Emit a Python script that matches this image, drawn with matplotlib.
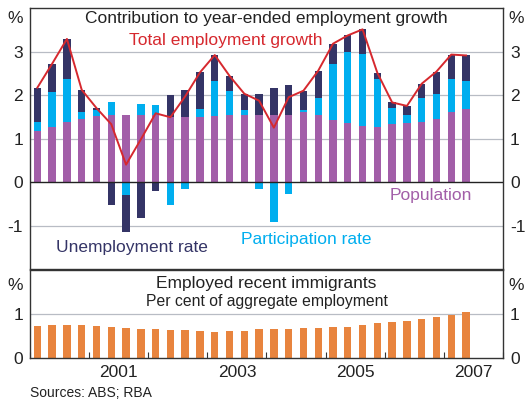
import numpy as np
import matplotlib
matplotlib.use("Agg")
import matplotlib.pyplot as plt


# ============================================================
# DATA (quarterly, Mar 2000 - Jun 2007)
# ============================================================
population = [1.17, 1.26, 1.39, 1.45, 1.51, 1.54, 1.55, 1.55, 1.55, 1.49,
              1.49, 1.50, 1.51, 1.54, 1.55, 1.55, 1.55, 1.55, 1.60, 1.55,
              1.42, 1.36, 1.28, 1.26, 1.33, 1.36, 1.37, 1.46, 1.60, 1.69]
participation = [0.22, 0.80, 0.99, 0.17, 0.14, 0.31, -0.29, 0.25, 0.23, -0.52,
                 -0.15, 0.17, 0.82, 0.56, 0.10, -0.15, -0.91, -0.27, 0.05, 0.39,
                 1.30, 1.62, 1.67, 1.12, 0.38, 0.17, 0.57, 0.57, 0.78, 0.64]
unemployment = [0.78, 0.66, 0.91, 0.50, 0.05, -0.52, -0.86, -0.82, -0.20, 0.52,
                0.63, 0.85, 0.59, 0.34, 0.38, 0.47, 0.61, 0.67, 0.45, 0.62,
                0.46, 0.39, 0.57, 0.13, 0.12, 0.22, 0.32, 0.51, 0.54, 0.59]
total_growth = [2.17, 2.72, 3.29, 2.12, 1.70, 1.33, 0.40, 0.98, 1.58, 1.49,
                1.97, 2.52, 2.92, 2.44, 2.03, 1.87, 1.25, 1.95, 2.10, 2.56,
                3.18, 3.37, 3.51, 2.51, 1.83, 1.75, 2.26, 2.54, 2.93, 2.91]
immigrants = [0.73, 0.75, 0.75, 0.75, 0.73, 0.70, 0.68, 0.66, 0.66, 0.63,
              0.63, 0.61, 0.59, 0.61, 0.61, 0.66, 0.66, 0.66, 0.68, 0.68,
              0.70, 0.70, 0.75, 0.79, 0.82, 0.84, 0.89, 0.93, 0.98, 1.05]
year_labels = ["2001", "2003", "2005", "2007"]

PURPLE = "#a25ea8"
LBLUE = "#00aeef"
NAVY = "#343466"
RED = "#d6282e"
ORANGE = "#e8843e"
GRID = "#b8bcc4"
FS = 12.5

plt.rcParams["font.family"] = ["Liberation Sans", "DejaVu Sans"]


def stack(vals_list):
    # split into positive/negative stacks, purple -> blue -> navy
    pos = np.zeros(len(vals_list[0]))
    neg = np.zeros(len(vals_list[0]))
    out = []
    for vals in vals_list:
        v = np.array(vals)
        bottom = np.where(v >= 0, pos, neg)
        out.append((v, bottom))
        pos = pos + np.where(v >= 0, v, 0)
        neg = neg + np.where(v < 0, v, 0)
    return out


x = np.arange(len(population))
W = 0.5

fig = plt.figure(figsize=(5.25, 4.01), dpi=100)
ax1 = fig.add_axes([0.0571, 0.329, 0.901, 0.651])
ax2 = fig.add_axes([0.0571, 0.107, 0.901, 0.220])

# ============================================================
# TOP PANEL
# ============================================================
for (v, b), c in zip(stack([population, participation, unemployment]),
                     [PURPLE, LBLUE, NAVY]):
    ax1.bar(x, v, W, bottom=b, color=c, zorder=2)

ax1.plot(x, total_growth, color=RED, lw=1.4, zorder=3)
ax1.axhline(0, color="#222222", lw=1.0, zorder=4)

ax1.set_ylim(-2, 4)
ax1.set_yticks([-1, 0, 1, 2, 3])
ax1.set_yticklabels(["-1", "0", "1", "2", "3"])
for yv in [-1, 1, 2, 3]:
    ax1.axhline(yv, color=GRID, lw=0.9, zorder=1)

ax1.text(0.5, 0.96, "Contribution to year-ended employment growth",
         transform=ax1.transAxes, ha="center", va="center", fontsize=FS, color="#222222")
ax1.text(0.414, 0.877, "Total employment growth", transform=ax1.transAxes,
         ha="center", va="center", fontsize=FS, color=RED)
ax1.text(0.935, 0.28, "Population", transform=ax1.transAxes,
         ha="right", va="center", fontsize=FS, color=PURPLE)
ax1.text(0.055, 0.084, "Unemployment rate", transform=ax1.transAxes,
         ha="left", va="center", fontsize=FS, color=NAVY)
ax1.text(0.584, 0.115, "Participation rate", transform=ax1.transAxes,
         ha="center", va="center", fontsize=FS, color=LBLUE)

# ============================================================
# BOTTOM PANEL
# ============================================================
ax2.bar(x, immigrants, W, color=ORANGE, zorder=2)
ax2.set_ylim(0, 2)
ax2.set_yticks([0, 1])
ax2.set_yticklabels(["0", "1"])
ax2.axhline(1, color=GRID, lw=0.9, zorder=1)

ax2.text(0.5, 0.85, "Employed recent immigrants", transform=ax2.transAxes,
         ha="center", va="center", fontsize=FS, color="#222222")
ax2.text(0.5, 0.645, "Per cent of aggregate employment", transform=ax2.transAxes,
         ha="center", va="center", fontsize=11.3, color="#222222")

# ============================================================
# SHARED STYLING
# ============================================================
for ax in (ax1, ax2):
    ax.set_xlim(-0.5, 31.5)
    for s in ax.spines.values():
        s.set_color("#333333")
        s.set_linewidth(1.0)
    ax.tick_params(axis="y", length=0, labelsize=FS, labelcolor="#222222",
                   left=True, right=True, labelleft=True, labelright=True, pad=5)
    ypct = 0.96 if ax is ax1 else 0.82
    ax.text(-0.016, ypct, "%", transform=ax.transAxes,
            ha="right", va="center", fontsize=FS, color="#222222")
    ax.text(1.012, ypct, "%", transform=ax.transAxes,
            ha="left", va="center", fontsize=FS, color="#222222")

ax1.set_xticks([])
ax2.set_xticks(np.arange(-0.5, 32, 4))
ax2.set_xticklabels([])
ax2.tick_params(axis="x", direction="in", length=4, color="#333333")
ax2.set_xticks(np.arange(5.5, 32, 8), minor=True)
ax2.set_xticklabels(year_labels, minor=True)
ax2.tick_params(axis="x", which="minor", length=0, labelsize=FS,
                labelcolor="#222222", pad=5)

fig.text(30 / 525, 1 - 393 / 401, "Sources: ABS; RBA", ha="left", va="center",
         fontsize=10, color="#222222")

fig.savefig("out.png", dpi=100)
plt.close(fig)
